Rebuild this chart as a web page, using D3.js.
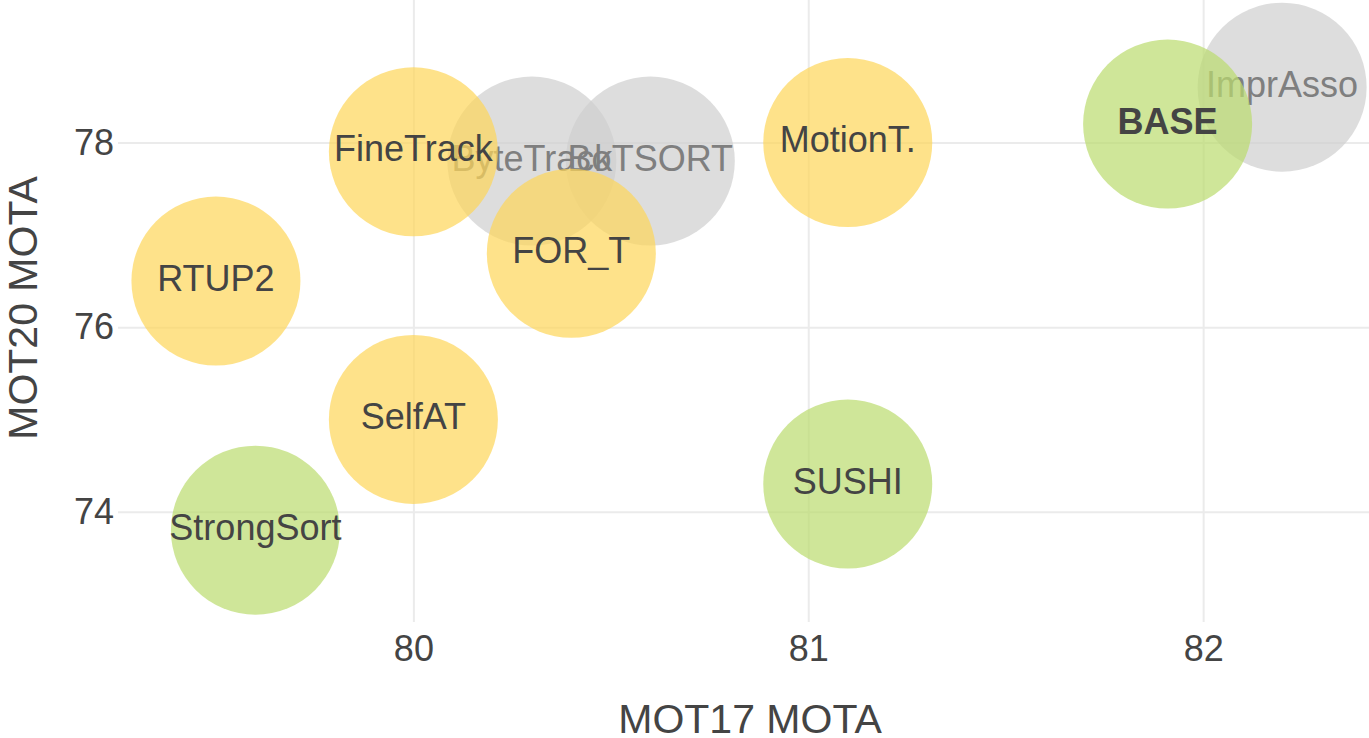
<!DOCTYPE html>
<html>
<head>
<meta charset="utf-8">
<script src="https://cdn.jsdelivr.net/npm/d3@7"></script>
<style>
  body { margin: 0; background: #fff; }
  text { font-family: "Liberation Sans", Arial, sans-serif; }
</style>
</head>
<body>
<div id="chartArea"></div>
<script>
// trackers, one list per colour group (drawn in this order)
var baselineNames = ['ByteTrack', 'BoTSORT', 'ImprAsso'];
var baselineMot17 = [80.3, 80.6, 82.2];
var baselineMot20 = [77.8, 77.8, 78.6];

var yellowNames = ['FineTrack', 'FOR_T', 'MotionT.', 'RTUP2', 'SelfAT'];
var yellowMot17 = [80.0, 80.4, 81.1, 79.5, 80.0];
var yellowMot20 = [77.9, 76.8, 78.0, 76.5, 75.0];

var greenNames = ['StrongSort', 'SUSHI', 'BASE'];
var greenMot17 = [79.6, 81.1, 81.91];
var greenMot20 = [73.8, 74.3, 78.2];

var xTicks = [80, 81, 82];
var yTicks = [74, 76, 78];

function chartBubble() {
    var width = 1369, height = 738;
    var margin = {top: 0, right: 0, bottom: 116, left: 118};
    var w = width - margin.left - margin.right;
    var h = height - margin.top - margin.bottom;

    var xscale = d3.scaleLinear().domain([79.252, 82.42]).range([0, w]);
    var yscale = d3.scaleLinear().domain([72.805, 79.545]).range([h, 0]);
    var r = 84.5;

    var svg = d3.select('#chartArea').append('svg')
        .attr('width', width)
        .attr('height', height);

    var g = svg.append('g')
        .attr('transform', 'translate(' + margin.left + ',' + margin.top + ')');

    // grid + tick labels
    var xAxis = g.append('g')
        .attr('transform', 'translate(0,' + h + ')')
        .call(d3.axisBottom(xscale).tickValues(xTicks).tickSize(-h).tickPadding(13).tickFormat(d3.format('d')));
    var yAxis = g.append('g')
        .call(d3.axisLeft(yscale).tickValues(yTicks).tickSize(-w).tickPadding(4).tickFormat(d3.format('d')));
    [xAxis, yAxis].forEach(function(a) {
        a.select('.domain').remove();
        a.selectAll('line').attr('stroke', '#ebebeb').attr('stroke-width', 2);
        a.selectAll('text')
            .attr('fill', '#444')
            .style('font-size', '36px')
            .style('font-family', '"Liberation Sans", Arial, sans-serif');
    });

    var groups = [
        {names: baselineNames, xs: baselineMot17, ys: baselineMot20, fill: '#cecece', text: '#7f7f7f', bold: []},
        {names: yellowNames, xs: yellowMot17, ys: yellowMot20, fill: '#fed658', text: '#444', bold: []},
        {names: greenNames, xs: greenMot17, ys: greenMot20, fill: '#badb6d', text: '#444', bold: ['BASE']}
    ];

    groups.forEach(function(grp) {
        var data = grp.names.map(function(n, i) { return {name: n, x: grp.xs[i], y: grp.ys[i]}; });
        var layer = g.append('g');
        layer.selectAll('circle').data(data).enter().append('circle')
            .attr('cx', function(d) { return xscale(d.x); })
            .attr('cy', function(d) { return yscale(d.y); })
            .attr('r', r)
            .attr('fill', grp.fill)
            .attr('fill-opacity', 0.7);
        layer.selectAll('text').data(data).enter().append('text')
            .attr('x', function(d) { return xscale(d.x); })
            .attr('y', function(d) { return yscale(d.y) + 9.5; })
            .attr('text-anchor', 'middle')
            .attr('fill', grp.text)
            .style('font-size', '36px')
            .style('font-weight', function(d) { return grp.bold.indexOf(d.name) >= 0 ? 'bold' : 'normal'; })
            .text(function(d) { return d.name; });
    });

    // axis titles
    svg.append('text')
        .attr('x', 750)
        .attr('y', 733)
        .attr('text-anchor', 'middle')
        .attr('fill', '#444')
        .style('font-size', '41px')
        .text('MOT17 MOTA');
    svg.append('text')
        .attr('transform', 'translate(37,' + 308 + ') rotate(-90)')
        .attr('text-anchor', 'middle')
        .attr('fill', '#444')
        .style('font-size', '41px')
        .text('MOT20 MOTA');
}
chartBubble();
</script>
</body>
</html>
